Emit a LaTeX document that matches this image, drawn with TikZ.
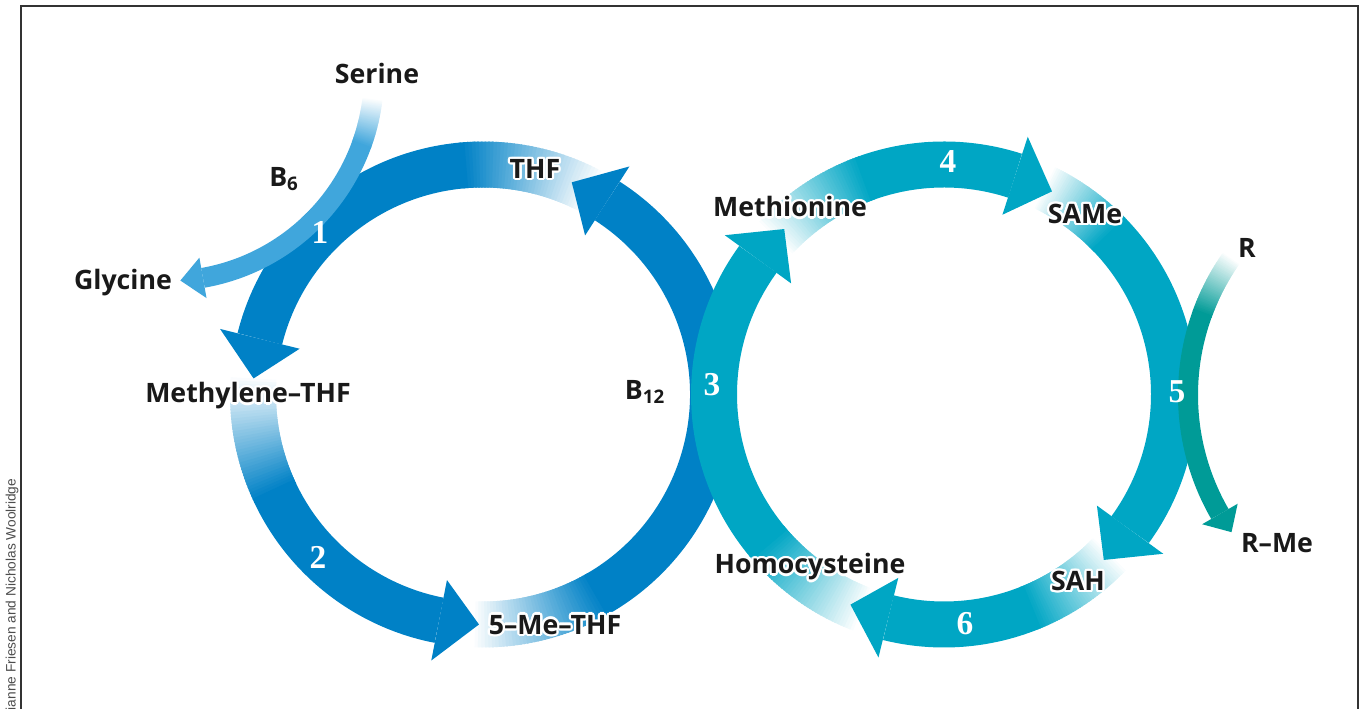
\documentclass[tikz,border=0pt]{standalone}
\usepackage{fontspec}
\usepackage{contour}
\setmainfont{Open Sans}
\newfontfamily\numfont{Liberation Serif}
\newfontfamily\creditfont{Liberation Sans}
\contourlength{1.3pt}
\definecolor{folblue}{HTML}{0081C6}
\definecolor{serblue}{HTML}{40A6DC}
\definecolor{metcyan}{HTML}{00A6C4}
\definecolor{rteal}{HTML}{009B97}

\newcommand{\fadearc}[7]{%
  \foreach \k in {0,...,39}{%
    \pgfmathsetmacro{\angA}{#4+(#5-#4)*\k/40}%
    \pgfmathsetmacro{\angB}{#4+(#5-#4)*(\k+1.6)/40}%
    \pgfmathtruncatemacro{\pct}{2.5*\k+2.5}%
    \draw[#7!\pct!white, line width=#3] ([shift={(\angA:#2)}]#1) arc (\angA:\angB:#2);
  }
  \draw[#7, line width=#3] ([shift={(#5:#2)}]#1) arc (#5:#6:#2);
}
\newcommand{\archead}[6]{%
  \fill[#6] ([shift={(#3:#2)}]#1) -- ([shift={(#4:{#2+#5})}]#1) -- ([shift={(#4:{#2-#5})}]#1) -- cycle;
}

\begin{document}
\begin{tikzpicture}[
  lab/.style={font=\bfseries\fontsize{15.2}{15.2}\selectfont, text=black!90},
  num/.style={font=\numfont\bfseries\fontsize{19}{19}\selectfont, text=white}]
\useasboundingbox (0,0) rectangle (27.28,14.18);
\draw[line width=0.9pt, black!80] (0.42,0) |- (27.16,14.06) -- (27.16,0);
\node[rotate=90, anchor=west, inner sep=0pt, text=black!70,
  font=\creditfont\fontsize{7.8}{7.8}\selectfont] (credit) at (0.24,-0.03) {ianne Friesen and Nicholas Woolridge};

\coordinate (c1) at (9.66,6.29);
\coordinate (c2) at (18.88,6.29);
\coordinate (cs) at (3.34,12.70);
\coordinate (cr) at (28.52,6.28);

\fadearc{c1}{4.6}{0.92cm}{62}{95}{166}{folblue}
\fadearc{c1}{4.6}{0.92cm}{176}{205}{259}{folblue}
\fadearc{c1}{4.6}{0.92cm}{268}{300}{417.3}{folblue}
\archead{c1}{4.6}{176}{166}{0.82}{folblue}
\archead{c1}{4.6}{269}{259}{0.82}{folblue}
\archead{c1}{4.6}{427.3}{417.3}{0.82}{folblue}

\fadearc{cs}{4.14}{0.4cm}{-7}{-20}{-80}{serblue}
\archead{cs}{4.14}{-86.3}{-80}{0.41}{serblue}

\fadearc{c2}{4.6}{0.92cm}{249}{220}{144}{metcyan}
\fadearc{c2}{4.6}{0.92cm}{137}{110}{72}{metcyan}
\fadearc{c2}{4.6}{0.92cm}{64}{44}{-36}{metcyan}
\fadearc{c2}{4.6}{0.92cm}{-44}{-68}{-104}{metcyan}
\archead{c2}{4.6}{134}{144}{0.82}{metcyan}
\archead{c2}{4.6}{62}{72}{0.82}{metcyan}
\archead{c2}{4.6}{-46}{-36}{0.82}{metcyan}
\archead{c2}{4.6}{-114}{-104}{0.82}{metcyan}

\fadearc{cr}{4.76}{0.4cm}{145}{160}{210}{rteal}
\archead{cr}{4.76}{215.2}{210}{0.41}{rteal}

\node[lab] (serine) at (7.54,12.72) {Serine};
\node[lab] (b6) at (5.68,10.6) {B\textsubscript{6}};
\node[num] (n1) at (6.40,9.54) {1};
\node[lab] (glycine) at (2.46,8.52) {Glycine};
\node[lab] (thf) at (10.70,10.78) {\contour{white}{THF}};
\node[lab] (methf) at (4.96,6.24) {\contour{white}{Methylene–THF}};
\node[num] (n2) at (6.36,3.04) {2};
\node[lab] (mthf) at (11.10,1.66) {\contour{white}{5–Me–THF}};
\node[lab] (b12) at (12.90,6.34) {B\textsubscript{12}};
\node[num] (n3) at (14.24,6.48) {3};
\node[lab] (met) at (15.80,10.02) {\contour{white}{Methionine}};
\node[num] (n4) at (18.96,10.94) {4};
\node[lab] (same) at (21.70,9.88) {\contour{white}{SAMe}};
\node[lab] (r) at (24.94,9.22) {R};
\node[num] (n5) at (23.54,6.34) {5};
\node[lab] (rme) at (25.54,3.32) {R–Me};
\node[lab] (sah) at (21.56,2.54) {\contour{white}{SAH}};
\node[num] (n6) at (19.30,1.70) {6};
\node[lab] (hcy) at (16.20,2.82) {\contour{white}{Homocysteine}};
\end{tikzpicture}
\end{document}
